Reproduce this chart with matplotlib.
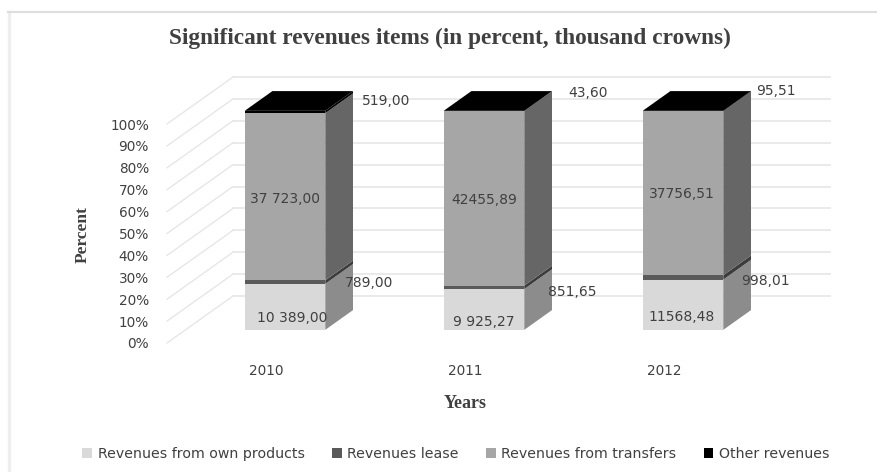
import matplotlib
matplotlib.use('Agg')
import matplotlib.pyplot as plt
from matplotlib.lines import Line2D
from matplotlib.patches import Polygon

years = ['2010', '2011', '2012']
series_names = ['Revenues from own products', 'Revenues lease', 'Revenues from transfers', 'Other revenues']
own_products = [10389.00, 9925.27, 11568.48]
lease = [789.00, 851.65, 998.01]
transfers = [37723.00, 42455.89, 37756.51]
other = [519.00, 43.60, 95.51]
own_labels = ['10 389,00', '9 925,27', '11568,48']
lease_labels = ['789,00', '851,65', '998,01']
transfer_labels = ['37 723,00', '42455,89', '37756,51']
other_labels = ['519,00', '43,60', '95,51']
percent_ticks = [0, 10, 20, 30, 40, 50, 60, 70, 80, 90, 100]

W, H = 877, 472
front_colors = ['#d9d9d9', '#5a5a5a', '#a6a6a6', '#000000']
side_colors = ['#8c8c8c', '#3c3c3c', '#666666', '#000000']
bar_w = 0.405

fig = plt.figure(figsize=(W / 100, H / 100), dpi=100)
fig.patch.set_facecolor('white')

# chart frame, only top and left show in the original
fig.add_artist(Line2D([9 / W, 9 / W], [0, 1 - 12 / H], color='#eeeeee', lw=2.4))
fig.add_artist(Line2D([8 / W, 1], [1 - 12 / H, 1 - 12 / H], color='#dedede', lw=1.5))

# axes = front edge of the 3d box, back wall is shifted by depth_x / depth_y
ax = fig.add_axes([167 / W, 1 - 343 / H, 597 / W, 219 / H])
ax.set_xlim(-0.5, 2.5)
ax.set_ylim(0, 100)
for s in ax.spines.values():
    s.set_visible(False)
ax.patch.set_alpha(0)

depth_x = 66 / 199.0
depth_y = 47 / 2.19


def shift(x, y, d):
    return x + depth_x * d, y + depth_y * d


# walls
for p in percent_ticks:
    x0, y0 = shift(-0.5, p, 0)
    x1, y1 = shift(-0.5, p, 1)
    x2, y2 = shift(2.5, p, 1)
    ax.plot([x0, x1], [y0, y1], color='#e4e4e4', lw=0.9, clip_on=False, zorder=1)
    ax.plot([x1, x2], [y1, y2], color='#e8e8e8', lw=1.3, clip_on=False, zorder=1)

# bars
d0, d1 = 0.28, 0.70
for i in range(len(years)):
    vals = [own_products[i], lease[i], transfers[i], other[i]]
    total = sum(vals)
    bottom = 0
    xl, xr = i - bar_w / 2, i + bar_w / 2
    for j, v in enumerate(vals):
        top = bottom + v / total * 100
        corners = [shift(xl, bottom, d0), shift(xr, bottom, d0), shift(xr, top, d0), shift(xl, top, d0)]
        ax.add_patch(Polygon(corners, fc=front_colors[j], ec='none', clip_on=False, zorder=3))
        side = [shift(xr, bottom, d0), shift(xr, bottom, d1), shift(xr, top, d1), shift(xr, top, d0)]
        ax.add_patch(Polygon(side, fc=side_colors[j], ec='none', clip_on=False, zorder=3))
        bottom = top
    lid = [shift(xl, 100, d0), shift(xr, 100, d0), shift(xr, 100, d1), shift(xl, 100, d1)]
    ax.add_patch(Polygon(lid, fc='black', ec='none', clip_on=False, zorder=3))

# data labels, offsets in pixels from the middle of each front face
offset_own = [(7, 0), (0, -2), (-1, 0)]
offset_lease = [(84, -1), (88, -5), (82, -4)]
offset_trans = [(0, -2), (0, -2), (-1, -1)]
offset_other = [(101, 11), (104, 18), (93, 20)]
for i in range(len(years)):
    vals = [own_products[i], lease[i], transfers[i], other[i]]
    total = sum(vals)
    texts = [own_labels[i], lease_labels[i], transfer_labels[i], other_labels[i]]
    offs = [offset_own[i], offset_lease[i], offset_trans[i], offset_other[i]]
    bottom = 0
    for j, v in enumerate(vals):
        share = v / total * 100
        if j == 0:
            anchor = shift(i, share * 0.25, d0)
        else:
            anchor = shift(i, bottom + share / 2, d0)
        ax.annotate(texts[j], xy=anchor, xytext=offs[j], textcoords='offset pixels',
                    ha='center', va='center', fontsize=10, color='#404040',
                    family='DejaVu Sans', zorder=5, annotation_clip=False)
        bottom += share

ax.set_xticks(range(len(years)), years)
ax.set_yticks(percent_ticks, [str(p) + '%' for p in percent_ticks])
ax.tick_params(length=0, labelsize=9.8, labelcolor='#404040')
ax.tick_params(axis='x', pad=15)
ax.tick_params(axis='y', pad=13)

fig.text(450 / W, 1 - 38 / H, 'Significant revenues items (in percent, thousand crowns)',
         ha='center', va='center', fontsize=16.8, fontweight='bold', family='Liberation Serif', color='#404040')
fig.text(83 / W, 1 - 235 / H, 'Percent', rotation=90, ha='center', va='center',
         fontsize=12.5, fontweight='bold', family='Liberation Serif', color='#404040')
fig.text(465 / W, 1 - 404 / H, 'Years', ha='center', va='center',
         fontsize=13, fontweight='bold', family='Liberation Serif', color='#404040')

handles = [plt.Rectangle((0, 0), 1, 1, fc=c) for c in front_colors]
fig.legend(handles, series_names, loc='center', bbox_to_anchor=(456 / W, 1 - 454 / H), ncol=4,
           frameon=False, fontsize=10.2, handlelength=0.7, handleheight=0.7, handletextpad=0.4,
           columnspacing=1.9, labelcolor='#404040')

fig.savefig('out.png', dpi=100)
